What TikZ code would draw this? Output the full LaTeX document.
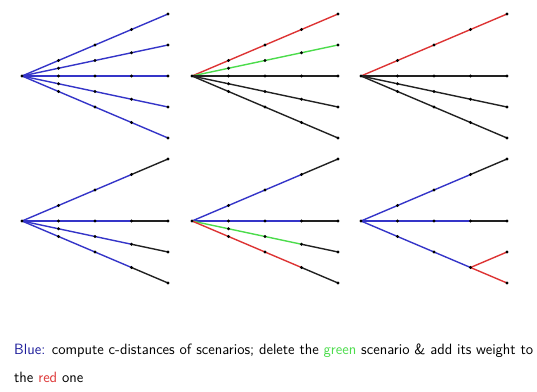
\documentclass[tikz,border=0pt]{standalone}
\usepackage{fontspec}
\usepackage{xcolor}
\usepackage{tikz}
\usetikzlibrary{backgrounds}
\definecolor{TreeBlue}{HTML}{3535C8}
\definecolor{TreeRed}{HTML}{DD3434}
\definecolor{TreeGreen}{HTML}{4CDC4C}
\definecolor{TreeInk}{HTML}{222222}
\definecolor{NoteBlue}{HTML}{1C1C9A}

\begin{document}
\begin{tikzpicture}[x=1pt,y=-1pt,
  dot/.style={circle,fill=black,inner sep=0pt,minimum size=3.4pt},
  bluepath/.style={line width=1.4pt,color=TreeBlue},
  redpath/.style={line width=1.4pt,color=TreeRed},
  greenpath/.style={line width=1.4pt,color=TreeGreen},
  blackpath/.style={line width=1.4pt,color=TreeInk},
  note/.style={anchor=base west,inner sep=0pt,font=\sffamily\fontsize{14.9}{17}\selectfont}]
\useasboundingbox (0,0) rectangle (537,391);

% nodes of the six scenario trees
\foreach \p/\ox/\oy/\sl in {a/22/76/{1,2,3,4,5},b/192/76/{1,2,3,4,5},c/361/76/{1,3,4,5},
    d/22/221/{1,3,4,5},e/192/221/{1,3,4,5},f/361/221/{1,3,5}} {
  \node[dot] (\p-0) at (\ox,\oy) {};
  \foreach \s in \sl
    \foreach \t in {1,...,4}
      \node[dot] (\p-\s-\t) at ({\ox+36.5*\t},{\oy+7.75*(\s-3)*\t}) {};
}
\node[dot] (f-4-4) at (507,252) {};

\begin{scope}[on background layer]
% top row
\foreach \s in {1,...,5}
  \draw[bluepath] (a-0.center) -- (a-\s-4.center);
\foreach \s/\c in {1/redpath,2/greenpath,3/blackpath,4/blackpath,5/blackpath}
  \draw[\c] (b-0.center) -- (b-\s-4.center);
\foreach \s/\c in {1/redpath,3/blackpath,4/blackpath,5/blackpath}
  \draw[\c] (c-0.center) -- (c-\s-4.center);
% bottom row
\foreach \s in {1,3,4,5} {
  \draw[bluepath] (d-0.center) -- (d-\s-3.center);
  \draw[blackpath] (d-\s-3.center) -- (d-\s-4.center);
}
\foreach \s/\c in {1/bluepath,3/bluepath,4/greenpath,5/redpath} {
  \draw[\c] (e-0.center) -- (e-\s-3.center);
  \draw[blackpath] (e-\s-3.center) -- (e-\s-4.center);
}
\foreach \s in {1,3} {
  \draw[bluepath] (f-0.center) -- (f-\s-3.center);
  \draw[blackpath] (f-\s-3.center) -- (f-\s-4.center);
}
\draw[bluepath] (f-0.center) -- (f-5-3.center);
\draw[redpath] (f-5-3.center) -- (f-5-4.center);
\draw[redpath] (f-5-3.center) -- (f-4-4.center);
\end{scope}

\node[note] (line1) at (14,354) {\textcolor{NoteBlue}{Blue:} compute c-distances of scenarios; delete the \textcolor{TreeGreen}{green} scenario \& add its weight to};
\node[note] (line2) at (14,382) {the \textcolor{TreeRed}{red} one};
\end{tikzpicture}
\end{document}
